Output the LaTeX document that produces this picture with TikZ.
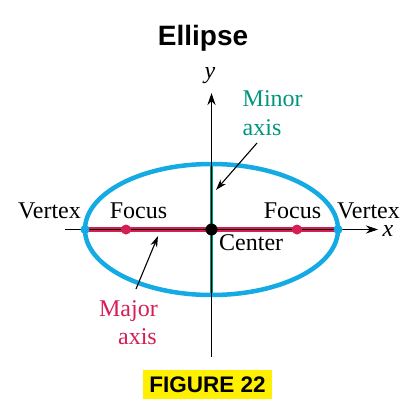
\documentclass[tikz,border=0pt]{standalone}
\usepackage{fontspec}
\setmainfont{Liberation Serif}
\newfontfamily\headfont{Liberation Sans}
\usetikzlibrary{arrows.meta}
\definecolor{ellblue}{RGB}{20,170,228}
\definecolor{majred}{RGB}{212,30,84}
\definecolor{mintea}{RGB}{0,150,125}
\definecolor{figyel}{RGB}{255,240,0}
\tikzset{
  lbl/.style={font=\fontsize{24}{26}\selectfont, inner sep=0pt},
  axisline/.style={line width=1pt, -{Stealth[length=12pt,width=8pt]}},
  pointer/.style={line width=1.1pt, -{Stealth[length=11pt,width=7pt]}},
}
\begin{document}
\begin{tikzpicture}[x=1pt,y=-1pt]
\useasboundingbox (0,0) rectangle (406,415);
% title
\node[font=\headfont\bfseries\fontsize{28}{30}\selectfont, inner sep=0pt] (title) at (203,38) {Ellipse};
% minor axis band
\coordinate (mtop) at (211.5,164);
\coordinate (mbot) at (211.5,295);
\draw[mintea, line width=3.5pt] (mtop) -- (mbot);
% major axis band
\coordinate (vl) at (85,229.5);
\coordinate (vr) at (338,229.5);
\draw[majred, line width=4.5pt] (vl) -- (vr);
% ellipse
\draw[ellblue, line width=4.5pt] (211.5,229.5) ellipse [x radius=126.5, y radius=65.5];
% axes
\coordinate (xl) at (65,229.5);
\coordinate (xr) at (378,229.5);
\coordinate (yb) at (211.5,357);
\coordinate (yt) at (211.5,93);
\draw[axisline] (xl) -- (xr);
\draw[axisline] (yb) -- (yt);
\node[lbl, font=\fontsize{24}{26}\selectfont\itshape, anchor=base] (xlab) at (388,236) {x};
\node[lbl, font=\fontsize{24}{26}\selectfont\itshape] (ylab) at (210,76) {y};
% points
\fill[ellblue] (vl) circle (4.5pt);
\fill[ellblue] (vr) circle (4.5pt);
\fill[majred] (126,229.5) circle (5pt);
\fill[majred] (297,229.5) circle (5pt);
\fill[black] (211.5,229.5) coordinate (ctr) circle (6pt);
% labels
\node[lbl, anchor=base] (vtxl) at (49.5,218) {Vertex};
\node[lbl, anchor=base] (focl) at (138.5,218) {Focus};
\node[lbl, anchor=base] (focr) at (292.5,218) {Focus};
\node[lbl, anchor=base] (vtxr) at (368.5,218) {Vertex};
\node[lbl, anchor=base west] (ctrl) at (219,250) {Center};
\node[lbl, anchor=base west, text=mintea] (minl) at (242.5,106) {Minor};
\node[lbl, anchor=base west, text=mintea] (minl2) at (242.5,135) {axis};
\node[lbl, anchor=base east, text=majred] (majl) at (158,316) {Major};
\node[lbl, anchor=base east, text=majred] (majl2) at (157,344) {axis};
% pointers
\coordinate (minp) at (216,190);
\coordinate (majp) at (158,236);
\draw[pointer] (257,143) -- (minp);
\draw[pointer] (136,289) -- (majp);
% figure label
\node[fill=figyel, font=\headfont\bfseries\fontsize{22.5}{24}\selectfont, minimum width=129pt, minimum height=29pt, inner sep=0pt] (fig) at (207.5,384.5) {FIGURE 22};
\end{tikzpicture}
\end{document}
